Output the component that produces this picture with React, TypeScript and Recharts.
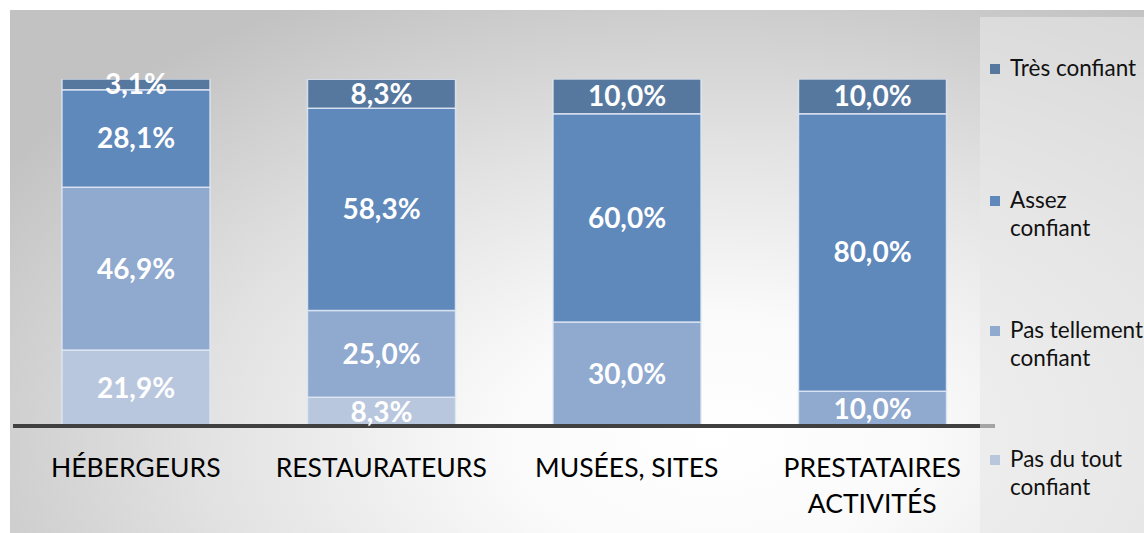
import React from 'react';
import { BarChart, Bar, XAxis, YAxis, Legend, LabelList } from 'recharts';

const categories = ['HÉBERGEURS', 'RESTAURATEURS', 'MUSÉES, SITES', 'PRESTATAIRES\nACTIVITÉS'];
const pasDuTout = [21.9, 8.3, 0, 0];
const pasTellement = [46.9, 25.0, 30.0, 10.0];
const assez = [28.1, 58.3, 60.0, 80.0];
const tres = [3.1, 8.3, 10.0, 10.0];

const seriesNames = ['Pas du tout\nconfiant', 'Pas tellement\nconfiant', 'Assez\nconfiant', 'Très confiant'];
const seriesKeys = ['pasDuTout', 'pasTellement', 'assez', 'tres'];
const seriesColors = ['#b9c7de', '#8fa9cf', '#5f88bb', '#56789f'];

const data = categories.map((c, i) => ({
  cat: c,
  pasDuTout: pasDuTout[i],
  pasTellement: pasTellement[i],
  assez: assez[i],
  tres: tres[i],
}));

const fmt = (v: any) => (v ? Number(v).toFixed(1).replace('.', ',') + '%' : '');

const CategoryTick = (props: any) => {
  const { x, y, payload } = props;
  const lines = String(payload.value).split('\n');
  return (
    <text x={x} y={y} textAnchor="middle" fill="#000" fontSize={26.5} fontFamily="Lato">
      {lines.map((l, i) => (
        <tspan key={i} x={x} dy={i === 0 ? 43 : 36}>
          {l}
        </tspan>
      ))}
    </text>
  );
};

const legendTops = [37, 169, 299, 428];

const renderLegend = (props: any) => {
  const payload = [...(props.payload || [])].sort(
    (a: any, b: any) => seriesNames.indexOf(b.value) - seriesNames.indexOf(a.value)
  );
  return (
    <div style={{ position: 'relative', width: 164, height: 516 }}>
      {payload.map((p: any, i: number) => (
        <div
          key={i}
          style={{
            position: 'absolute',
            left: 10,
            top: legendTops[i],
            display: 'flex',
            alignItems: 'flex-start',
            fontFamily: 'Lato',
            fontSize: 22.5,
            lineHeight: '28px',
            color: '#111',
            whiteSpace: 'pre',
          }}
        >
          <span
            style={{
              display: 'inline-block',
              width: 10,
              height: 10,
              flex: '0 0 10px',
              background: p.color,
              marginTop: 10,
              marginRight: 10,
            }}
          />
          <span>{p.value}</span>
        </div>
      ))}
    </div>
  );
};

export default function App() {
  return (
    <div style={{ position: 'absolute', left: 0, top: 0, width: 1144, height: 533, background: '#fff' }}>
      <div
        style={{
          position: 'absolute',
          left: 10,
          top: 10,
          width: 1134,
          height: 523,
          background:
            'radial-gradient(ellipse 75% 95% at 62% 82%, #ffffff 0%, #fafafa 25%, #e2e2e2 60%, #c2c2c2 100%)',
        }}
      />
      <div style={{ position: 'absolute', left: 0, top: 0 }}>
        <BarChart
          width={1144}
          height={533}
          data={data}
          margin={{ top: 79, right: 149, bottom: 77, left: 13 }}
          barSize={148}
        >
          <XAxis
            dataKey="cat"
            height={30}
            axisLine={{ stroke: '#404040', strokeWidth: 4 }}
            tickLine={false}
            tick={<CategoryTick />}
            interval={0}
          />
          <YAxis hide domain={[0, 100]} allowDataOverflow />
          <Legend
            layout="vertical"
            align="center"
            verticalAlign="middle"
            content={renderLegend}
            wrapperStyle={{
              position: 'absolute',
              left: 980,
              top: 17,
              width: 164,
              height: 516,
              background: 'rgba(232,232,232,0.6)',
            }}
          />
          {seriesKeys.map((k, i) => (
            <Bar
              key={k}
              dataKey={k}
              name={seriesNames[i]}
              stackId="a"
              fill={seriesColors[i]}
              stroke="rgba(225,232,245,0.85)"
              strokeWidth={1.5}
              isAnimationActive={false}
            >
              <LabelList
                dataKey={k}
                position="center"
                formatter={fmt}
                fill="#fff"
                fontSize={28}
                fontWeight="bold"
                fontFamily="Lato"
              />
            </Bar>
          ))}
        </BarChart>
      </div>
    </div>
  );
}
